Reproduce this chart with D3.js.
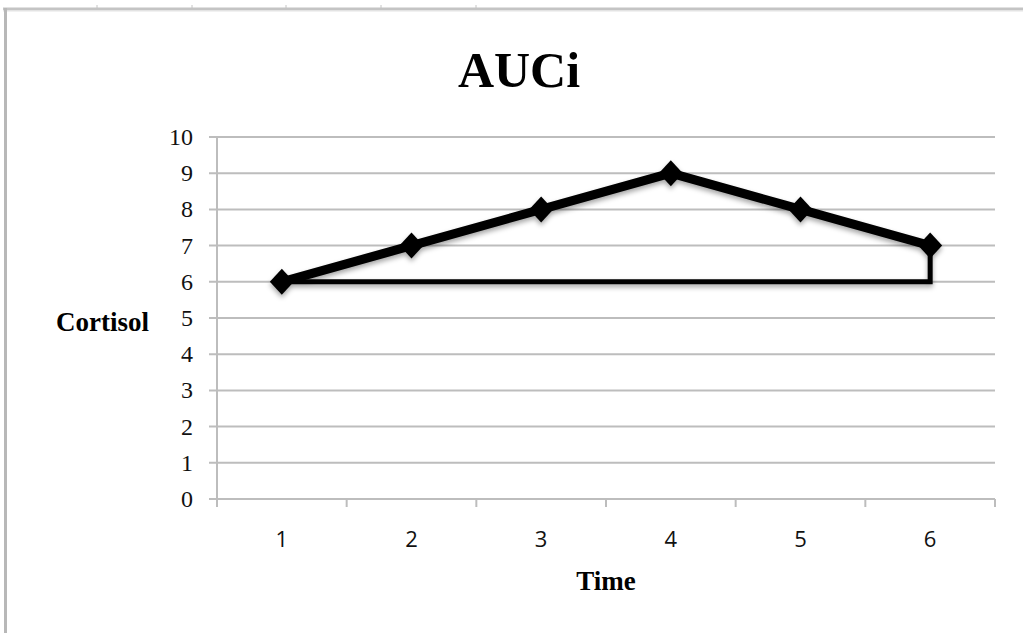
<!DOCTYPE html>
<html>
<head>
<meta charset="utf-8">
<script src="https://cdn.jsdelivr.net/npm/d3@7"></script>
<style>
  html, body { margin: 0; padding: 0; background: #fff; }
  svg { display: block; }
</style>
</head>
<body>
<svg id="chart" width="1023" height="633"></svg>
<script>
const categories = ["1", "2", "3", "4", "5", "6"];
const cortisol = [6, 7, 8, 9, 8, 7];
const baselineValue = 6;
const yTicks = [0, 1, 2, 3, 4, 5, 6, 7, 8, 9, 10];
const titleText = "AUCi";
const xTitle = "Time";
const yTitle = "Cortisol";

const svg = d3.select("#chart");
const W = 1023, H = 633;
const plot = { left: 217, right: 995, top: 137, bottom: 499 };

// Sheet-like frame
svg.append("line").attr("x1", 3).attr("x2", W).attr("y1", 9).attr("y2", 9)
  .attr("stroke", "#c4c4c4").attr("stroke-width", 3);
svg.append("line").attr("x1", 3).attr("x2", W).attr("y1", 11).attr("y2", 11)
  .attr("stroke", "#e4e4e4").attr("stroke-width", 1);
[97, 192, 286, 381, 476].forEach(x => {
  svg.append("line").attr("x1", x).attr("x2", x).attr("y1", 5).attr("y2", 9)
    .attr("stroke", "#c4c4c4").attr("stroke-width", 1);
});
svg.append("line").attr("x1", 5.5).attr("x2", 5.5).attr("y1", 8).attr("y2", H)
  .attr("stroke", "#b8b8b8").attr("stroke-width", 3);

const x = d3.scaleBand().domain(categories).range([plot.left, plot.right]).padding(0);
const y = d3.scaleLinear().domain([0, 10]).range([plot.bottom, plot.top]);
const cx = d => x(d) + x.bandwidth() / 2;

// Gridlines (with left tick extension)
const grid = svg.append("g");
grid.selectAll("line").data(yTicks).join("line")
  .attr("x1", plot.left - 8).attr("x2", plot.right)
  .attr("y1", d => y(d)).attr("y2", d => y(d))
  .attr("stroke", "#bdbdbd").attr("stroke-width", 2);

// Y axis line
svg.append("line").attr("x1", plot.left).attr("x2", plot.left)
  .attr("y1", plot.top).attr("y2", plot.bottom + 8)
  .attr("stroke", "#bdbdbd").attr("stroke-width", 2);

// X axis with boundary ticks
const xAxis = svg.append("g").attr("transform", `translate(0,${plot.bottom})`);
xAxis.append("line").attr("x1", plot.left).attr("x2", plot.right)
  .attr("stroke", "#bdbdbd").attr("stroke-width", 2);
const boundaries = categories.map(c => x(c)).concat([x(categories[categories.length - 1]) + x.bandwidth()]);
xAxis.selectAll("line.tk").data(boundaries).join("line").attr("class", "tk")
  .attr("x1", d => d).attr("x2", d => d).attr("y1", 0).attr("y2", 8)
  .attr("stroke", "#bdbdbd").attr("stroke-width", 2);
xAxis.selectAll("text").data(categories).join("text")
  .attr("x", d => cx(d)).attr("y", 48)
  .attr("text-anchor", "middle")
  .attr("font-family", "'Open Sans', 'Liberation Sans', sans-serif")
  .attr("font-size", 22).attr("fill", "#111")
  .text(d => d);

// Y tick labels
svg.append("g").selectAll("text").data(yTicks).join("text")
  .attr("x", 193).attr("y", d => y(d) + 8)
  .attr("text-anchor", "end")
  .attr("font-family", "'Liberation Serif', 'Times New Roman', serif")
  .attr("font-size", 24).attr("fill", "#111")
  .text(d => d);

// Titles
svg.append("text").attr("x", 519).attr("y", 87).attr("text-anchor", "middle")
  .attr("font-family", "'Liberation Serif', 'Times New Roman', serif")
  .attr("font-weight", "bold").attr("font-size", 50).attr("fill", "#000")
  .text(titleText);
svg.append("text").attr("x", 606).attr("y", 590).attr("text-anchor", "middle")
  .attr("font-family", "'Liberation Serif', 'Times New Roman', serif")
  .attr("font-weight", "bold").attr("font-size", 27).attr("fill", "#000")
  .text(xTitle);
svg.append("text").attr("x", 149).attr("y", 331).attr("text-anchor", "end")
  .attr("font-family", "'Liberation Serif', 'Times New Roman', serif")
  .attr("font-weight", "bold").attr("font-size", 27).attr("fill", "#000")
  .text(yTitle);

// Shadow filter
const defs = svg.append("defs");
const f = defs.append("filter").attr("id", "shadow").attr("x", "-10%").attr("y", "-50%")
  .attr("width", "120%").attr("height", "200%");
f.append("feDropShadow").attr("dx", 0).attr("dy", 3).attr("stdDeviation", 2.5)
  .attr("flood-color", "#000").attr("flood-opacity", 0.35);

const marks = svg.append("g").attr("filter", "url(#shadow)");

// Baseline (AUCi reference) path
const last = categories.length - 1;
const basePts = [
  [cx(categories[0]), y(baselineValue)],
  [cx(categories[last]), y(baselineValue)],
  [cx(categories[last]), y(cortisol[last])]
];
marks.append("path").attr("d", d3.line()(basePts))
  .attr("fill", "none").attr("stroke", "#000").attr("stroke-width", 5)
  .attr("stroke-linejoin", "miter");

// Series line
const line = d3.line().x((d, i) => cx(categories[i])).y(d => y(d));
marks.append("path").datum(cortisol).attr("d", line)
  .attr("fill", "none").attr("stroke", "#000").attr("stroke-width", 9)
  .attr("stroke-linejoin", "round");

// Diamond markers
marks.selectAll("path.m").data(cortisol).join("path").attr("class", "m")
  .attr("transform", (d, i) => `translate(${cx(categories[i])},${y(d)})`)
  .attr("d", "M0,-13L12,0L0,13L-12,0Z")
  .attr("fill", "#000");
</script>
</body>
</html>
